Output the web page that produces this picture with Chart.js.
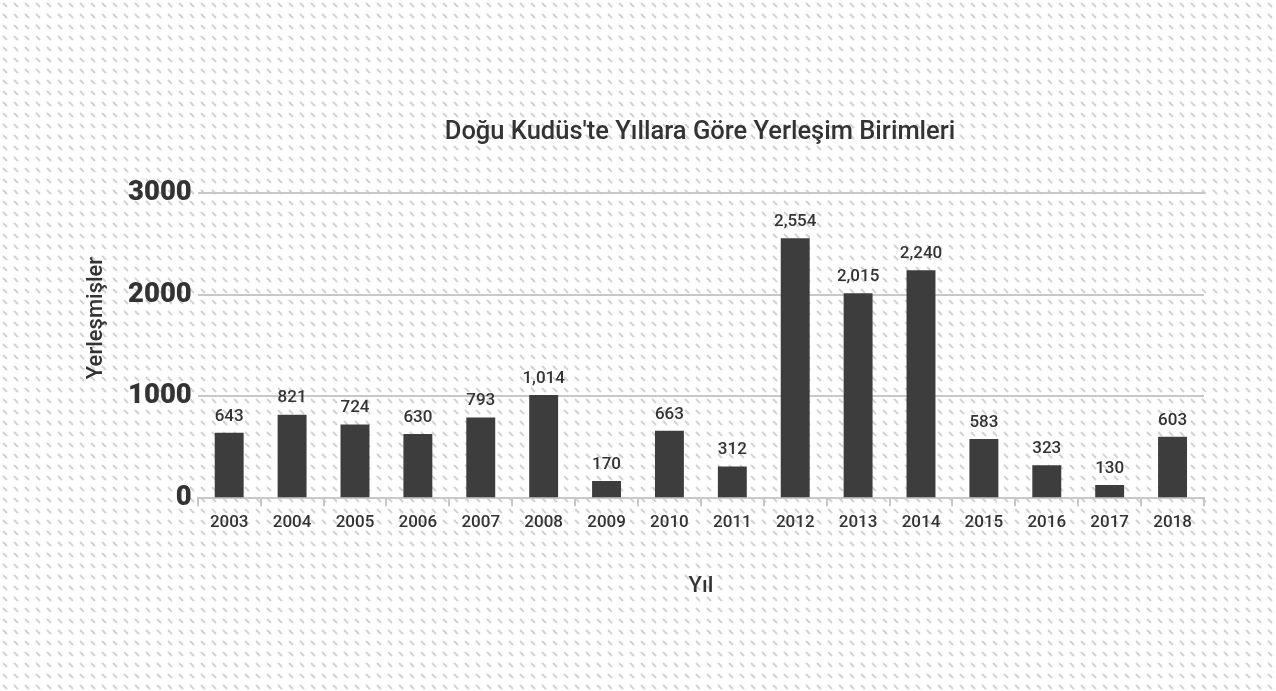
<!DOCTYPE html>
<html>
<head>
<meta charset="utf-8">
<script src="https://cdn.jsdelivr.net/npm/chart.js@4.4.0/dist/chart.umd.min.js"></script>
<style>
body{margin:0;background-color:#fff;
background-image:url("data:image/svg+xml,%3Csvg xmlns='http://www.w3.org/2000/svg' width='11' height='11'%3E%3Cline x1='3' y1='3' x2='7' y2='7' stroke='%23d2d2d2' stroke-width='2'/%3E%3C/svg%3E");}
#wrap{width:1276px;height:691px;}
</style>
</head>
<body>
<div id="wrap"><canvas id="mycanvas"></canvas></div>
<script>
var years=['2003','2004','2005','2006','2007','2008','2009','2010','2011','2012','2013','2014','2015','2016','2017','2018'];
var settlements=[643,821,724,630,793,1014,170,663,312,2554,2015,2240,583,323,130,603];
var yTicks=[0,1000,2000,3000];

// title, value labels above bars and y axis title, placed like the original
var extraText={
	id:'extraText',
	afterDatasetsDraw:function(chart){
		var ctx=chart.ctx;
		var meta=chart.getDatasetMeta(0);
		ctx.save();
		ctx.fillStyle='#333';
		ctx.textAlign='center';
		ctx.textBaseline='middle';
		ctx.font='500 25.5px Roboto';
		ctx.fillText("Doğu Kudüs'te Yıllara Göre Yerleşim Birimleri",700,133);
		ctx.font='500 17px Roboto';
		ctx.textBaseline='bottom';
		meta.data.forEach(function(bar,i){
			ctx.fillText(settlements[i].toLocaleString('en-US'),bar.x,bar.y-8);
		});
		ctx.translate(96,318);
		ctx.rotate(-Math.PI/2);
		ctx.textBaseline='middle';
		ctx.font='500 22px Roboto';
		ctx.fillText('Yerleşmişler',0,0);
		ctx.restore();
	}
};

var ctx=document.getElementById('mycanvas');
var barGraph=new Chart(ctx,{
	type:'bar',
	data:{
		labels:years,
		datasets:[{
			label:'Yerleşmişler',
			backgroundColor:'#3d3d3d',
			data:settlements,
			barPercentage:0.46,
			categoryPercentage:1
		}]
	},
	options:{
		responsive:true,
		maintainAspectRatio:false,
		animation:false,
		layout:{padding:{left:122,right:72,top:193,bottom:87}},
		plugins:{
			legend:{display:false},
			tooltip:{enabled:false},
			title:{display:false}
		},
		scales:{
			x:{
				grid:{display:true,drawOnChartArea:false,color:'#c8c8c8',lineWidth:2,tickLength:8,offset:true},
				border:{color:'#c8c8c8',width:2},
				ticks:{color:'#333',font:{family:'Roboto',size:17,weight:'500'},padding:6},
				title:{display:true,text:'Yıl',color:'#333',font:{family:'Roboto',size:22,weight:'500'},padding:{top:35}}
			},
			y:{
				min:0,max:3000,
				afterBuildTicks:function(axis){axis.ticks=yTicks.map(function(v){return {value:v};});},
				grid:{color:'#c8c8c8',lineWidth:2,drawTicks:false},
				border:{display:false},
				ticks:{color:'#333',font:{family:'Roboto',size:27.5,weight:'900'},padding:6,
					callback:function(v){return String(v);}}
			}
		}
	},
	plugins:[extraText]
});
</script>
</body>
</html>
